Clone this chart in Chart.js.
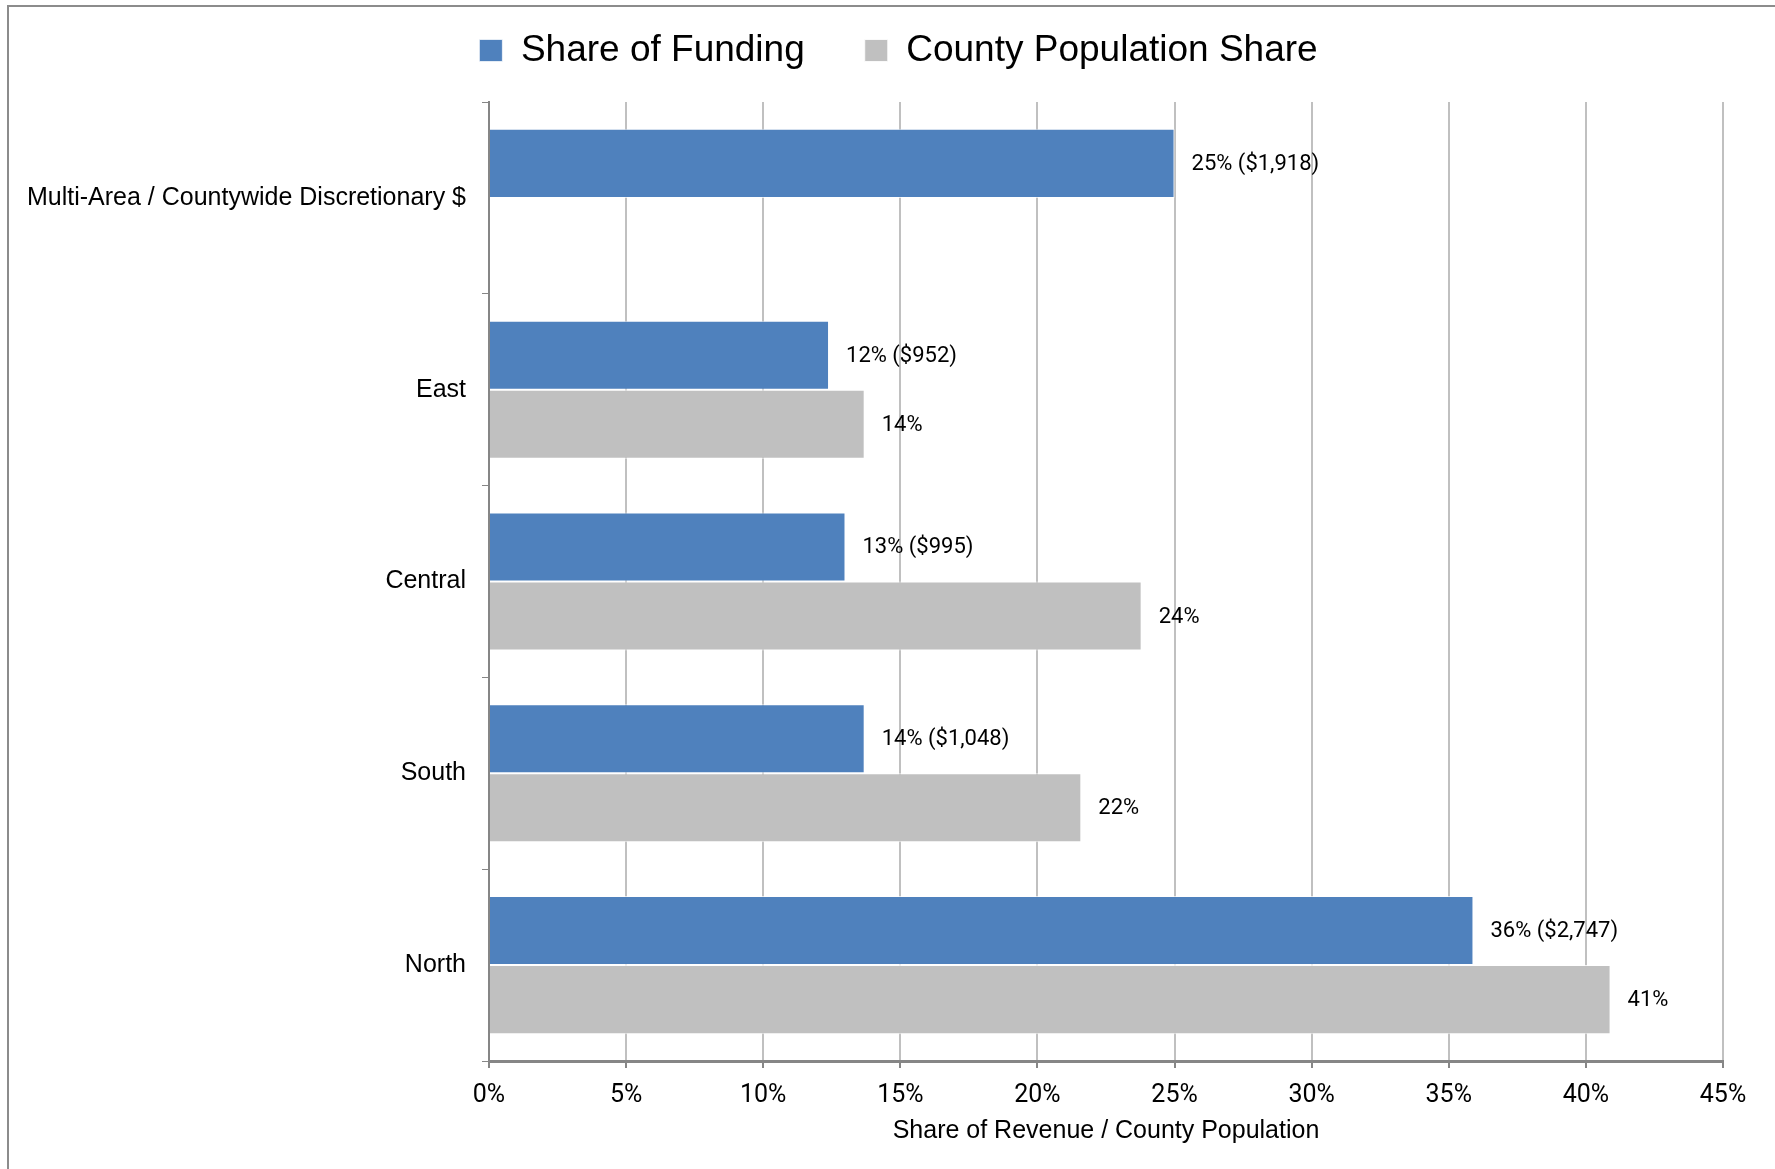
<!DOCTYPE html>
<html>
<head>
<meta charset="utf-8">
<title>Share of Funding vs County Population</title>
<script src="https://cdn.jsdelivr.net/npm/chart.js@4.4.1/dist/chart.umd.min.js"></script>
<style>
  html, body { margin: 0; padding: 0; background: #fff; }
  #wrap { position: relative; width: 1775px; height: 1169px; }
  #frame {
    position: absolute; left: 7px; top: 5px; right: 0; bottom: 0;
    border-left: 2px solid #8c8c8c; border-top: 2px solid #8c8c8c;
    pointer-events: none;
  }
  canvas { display: block; }
</style>
</head>
<body>
<div id="wrap">
  <canvas id="fundingChart" width="1775" height="1169"></canvas>
  <div id="frame"></div>
</div>
<script>
// Areas, top to bottom
const regions = ['Multi-Area / Countywide Discretionary $', 'East', 'Central', 'South', 'North'];
// Funding share (%) and dollar amount per area
const fundingShare = [25.0, 12.4, 13.0, 13.7, 35.9];
const fundingDollars = [1918, 952, 995, 1048, 2747];
// Population share (%); no population for the countywide pot
const populationShare = [null, 13.7, 23.8, 21.6, 40.9];
// x axis ticks (%)
const xTickValues = [0, 5, 10, 15, 20, 25, 30, 35, 40, 45];

const BLUE = '#4f81bd';
const GRAY = '#c0c0c0';
const AXIS_GRAY = '#868686';

function fundingLabel(i) {
    return Math.round(fundingShare[i]) + '% ($' + fundingDollars[i].toLocaleString('en-US') + ')';
}
function populationLabel(i) {
    return Math.round(populationShare[i]) + '%';
}

// value labels to the right of each bar
const barLabels = {
    id: 'barLabels',
    afterDatasetsDraw(chart) {
        const ctx = chart.ctx;
        ctx.save();
        ctx.font = '22px Roboto';
        ctx.fillStyle = '#000';
        ctx.textAlign = 'left';
        ctx.textBaseline = 'middle';
        chart.data.datasets.forEach((ds, di) => {
            chart.getDatasetMeta(di).data.forEach((bar, i) => {
                if (ds.data[i] == null) return;
                const text = di === 0 ? fundingLabel(i) : populationLabel(i);
                ctx.fillText(text, bar.x + 17, bar.y + 1);
            });
        });
        ctx.restore();
    }
};

// fixed legend band height, and legend nudged right of the canvas centre
const legendPlacement = {
    id: 'legendPlacement',
    beforeLayout(chart) {
        const legend = chart.legend;
        if (!legend || legend._fixed) return;
        const fit = legend.fit;
        legend.fit = function () {
            fit.call(this);
            this.height = 130;
        };
        legend._fixed = true;
    },
    afterLayout(chart) {
        if (chart.legend) chart.legend.left += 74;
    }
};

new Chart(document.getElementById('fundingChart'), {
    type: 'bar',
    data: {
        labels: regions,
        datasets: [{
            label: 'Share of Funding',
            data: fundingShare,
            backgroundColor: BLUE,
            borderColor: 'rgba(255,255,255,0.7)',
            borderWidth: 1,
            categoryPercentage: 0.72,
            barPercentage: 1.0
        }, {
            label: 'County Population Share',
            data: populationShare,
            backgroundColor: GRAY,
            borderColor: 'rgba(255,255,255,0.8)',
            borderWidth: 1,
            categoryPercentage: 0.72,
            barPercentage: 1.0
        }]
    },
    options: {
        indexAxis: 'y',
        responsive: false,
        animation: false,
        layout: {
            padding: { top: -28, left: 0, right: 52, bottom: 0 }
        },
        scales: {
            x: {
                min: 0,
                max: 45,
                afterBuildTicks(scale) {
                    scale.ticks = xTickValues.map(v => ({ value: v }));
                },
                afterFit(scale) {
                    scale.height = 108;
                },
                grid: {
                    color: GRAY,
                    lineWidth: 2,
                    tickColor: AXIS_GRAY,
                    tickLength: 7
                },
                border: { color: AXIS_GRAY, width: 3 },
                ticks: {
                    padding: 13,
                    color: '#000',
                    font: { family: 'Roboto', size: 25 },
                    maxRotation: 0,
                    callback: v => v + '%'
                },
                title: {
                    display: true,
                    text: 'Share of Revenue / County Population',
                    color: '#000',
                    font: { family: 'Liberation Sans', size: 25 },
                    padding: { top: 0, bottom: 23 }
                }
            },
            y: {
                afterFit(scale) {
                    scale.width = 489;
                },
                grid: {
                    display: true,
                    drawOnChartArea: false,
                    drawTicks: true,
                    tickLength: 7,
                    tickColor: AXIS_GRAY,
                    offset: true
                },
                border: { color: AXIS_GRAY, width: 2 },
                ticks: {
                    padding: 16,
                    color: '#000',
                    autoSkip: false,
                    font: { family: 'Liberation Sans', size: 25 }
                }
            }
        },
        plugins: {
            legend: {
                position: 'top',
                labels: {
                    color: '#000',
                    font: { family: 'Liberation Sans', size: 37 },
                    boxWidth: 23,
                    boxHeight: 22,
                    padding: 60
                }
            },
            tooltip: { enabled: false }
        }
    },
    plugins: [barLabels, legendPlacement]
});
</script>
</body>
</html>
